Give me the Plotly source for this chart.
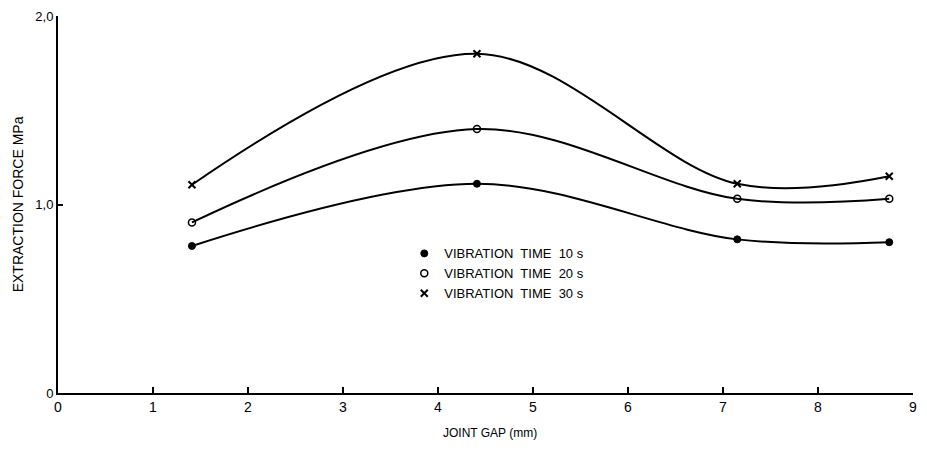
import plotly.graph_objects as go

joint_gap = [1.41, 4.41, 7.15, 8.75]
force_10s = [0.78, 1.11, 0.815, 0.80]
force_20s = [0.905, 1.40, 1.03, 1.03]
force_30s = [1.105, 1.80, 1.11, 1.15]

series_names = ["VIBRATION  TIME  10 s", "VIBRATION  TIME  20 s", "VIBRATION  TIME  30 s"]
x_tick_vals = [0, 1, 2, 3, 4, 5, 6, 7, 8, 9]
x_tick_text = ["0", "1", "2", "3", "4", "5", "6", "7", "8", "9"]
y_tick_vals = [0, 1, 2]
y_tick_text = ["0", "1,0", "2,0"]

fig = go.Figure()

styles = [
    dict(symbol="circle", color="black", line=dict(color="black", width=1)),
    dict(symbol="circle-open", color="black", line=dict(color="black", width=1.5)),
    dict(symbol="x-thin", color="black", line=dict(color="black", width=2)),
]

for ys, name, st in zip([force_10s, force_20s, force_30s], series_names, styles):
    fig.add_trace(go.Scatter(
        x=joint_gap, y=ys, mode="lines+markers", name=name,
        line=dict(color="black", width=2, shape="spline", smoothing=1.0),
        marker=dict(size=7, **st),
        showlegend=False,
    ))
    fig.add_trace(go.Scatter(
        x=[None], y=[None], mode="markers", name=name,
        marker=dict(size=7, **st),
        showlegend=True,
    ))

# page body has an 8px margin, so the figure is sized to fit inside the window
fig.update_layout(
    width=911, height=434,
    margin=dict(l=50, r=6, t=8, b=49),
    paper_bgcolor="white", plot_bgcolor="white",
    font=dict(family="Liberation Sans, Arial, sans-serif", color="black", size=12),
    legend=dict(x=0.405, y=0.41, xanchor="left", yanchor="top",
                bgcolor="rgba(0,0,0,0)", font=dict(size=13), itemwidth=30,
                tracegroupgap=2),
    annotations=[
        dict(text="JOINT GAP (mm)", xref="paper", yref="paper", x=0.505, y=-0.106,
             xanchor="center", yanchor="middle", showarrow=False, font=dict(size=12)),
        dict(text="EXTRACTION FORCE MPa", xref="paper", yref="paper", x=-0.047, y=0.5,
             xanchor="center", yanchor="middle", textangle=-90, showarrow=False,
             font=dict(size=14)),
    ],
)

fig.update_xaxes(
    range=[0, 9], tickvals=x_tick_vals, ticktext=x_tick_text,
    showline=True, linecolor="black", linewidth=2,
    ticks="inside", ticklen=6, tickcolor="black", tickwidth=1.5,
    showgrid=False, zeroline=False, automargin=False,
    ticklabeloverflow="allow", tickfont=dict(size=14),
)
fig.update_yaxes(
    range=[0, 2], tickvals=y_tick_vals, ticktext=y_tick_text,
    showline=True, linecolor="black", linewidth=2,
    ticks="inside", ticklen=5, tickcolor="black", tickwidth=1.5,
    showgrid=False, zeroline=False, automargin=False,
    ticklabeloverflow="allow", tickfont=dict(size=13),
)

fig.write_html("out.html")
